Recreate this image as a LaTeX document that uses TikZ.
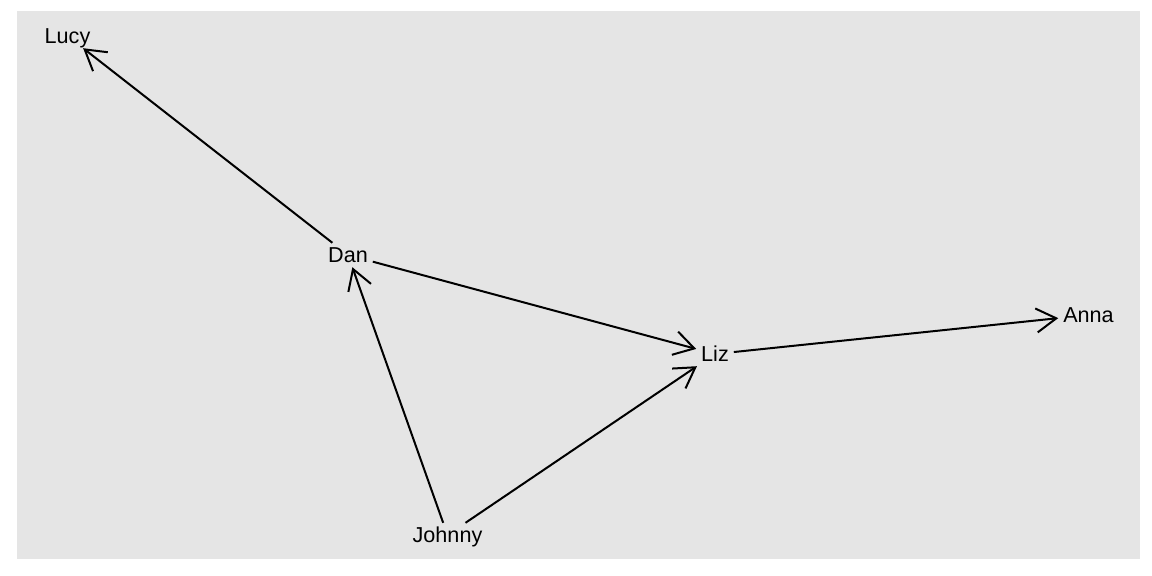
\documentclass[tikz,border=0pt]{standalone}
\usepackage{fontspec}
\setmainfont{Liberation Sans}
\usetikzlibrary{arrows.meta}
\definecolor{panelgrey}{RGB}{229,229,229}

\tikzset{every picture/.style={line width=1pt}}
\tikzset{
  person/.style={inner sep=2.5pt, outer sep=0pt, text height=0.72em, text depth=0pt, font=\fontsize{10.8}{13}\selectfont},
  tie/.style={draw, -{Straight Barb[length=10pt, width=12pt, line width=1pt]}}
}

\begin{document}
\begin{tikzpicture}[x=0.5pt,y=0.5pt,yscale=-1,xscale=1]
\useasboundingbox (0,0) rectangle (1152,576);

%Shape: Rectangle (panel)
\fill [panelgrey] (17,11) rectangle (1140,559);

% Text Node
\node [person] (lucy) at (67.5,36) {Lucy};
% Text Node
\node [person] (dan) at (348,255) {Dan};
% Text Node
\node [person] (liz) at (715,354) {Liz};
% Text Node
\node [person] (anna) at (1088.5,315) {Anna};
% Text Node
\node [person] (johnny) at (447.5,535) {Johnny};

%Straight Lines
\draw [tie] (dan) -- (lucy);
\draw [tie] (dan) -- (liz);
\draw [tie] (johnny) -- (dan);
\draw [tie] (johnny) -- (liz);
\draw [tie] (liz) -- (anna);

\end{tikzpicture}
\end{document}
